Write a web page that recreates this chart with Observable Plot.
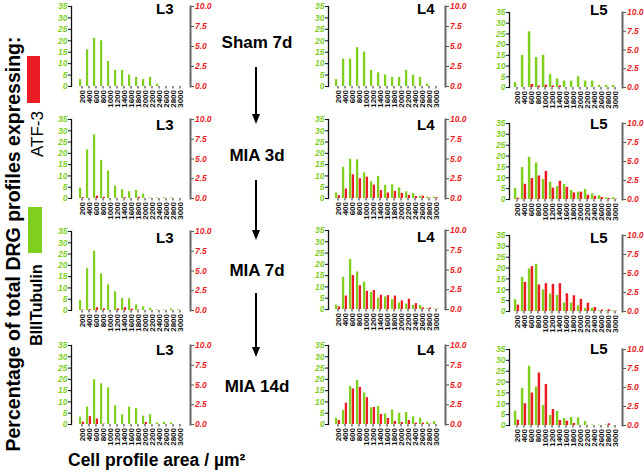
<!DOCTYPE html>
<html><head><meta charset="utf-8">
<script src="https://cdn.jsdelivr.net/npm/d3@7"></script>
<script src="https://cdn.jsdelivr.net/npm/@observablehq/plot@0.6"></script>
<style>
body{margin:0;background:#fff;font-family:"Liberation Sans",Arial,sans-serif;}
#chart{position:relative;width:644px;height:472px;overflow:hidden;background:#fff;}
#chart svg.p{position:absolute;}
#chart svg.ov{position:absolute;left:0;top:0;}
</style></head><body><div id="chart"></div>
<script>
// ---- data ----
const categories = [200,400,600,800,1000,1200,1400,1600,1800,2000,2200,2400,2600,2800,3000];
const rightTicks = [0,2.5,5,7.5,10];
const leftTicks = [0,5,10,15,20,25,30,35];
const groups = ["Sham 7d","MIA 3d","MIA 7d","MIA 14d"];
const levels = ["L3","L4","L5"];

const sham7d_L3_tub = [3,16,21,20,11,7,7,5,4,3,4,1,0,0,0];
const sham7d_L3_atf = [0,0,0,0,0,0,0,0,0,0,0,0,0,0,0];
const sham7d_L4_tub = [3,12,12,17,15,7,6,5,4,4,7,5,4,1,0];
const sham7d_L4_atf = [0,0,0,0,0,0,0,0,0,0,0,0,0,0,0];
const sham7d_L5_tub = [2.2,15,26,14,15,6,4,3,3,5,3,3,1,1,1];
const sham7d_L5_atf = [0,0,0.4,0.2,0.3,0.2,0.2,0,0,0,0,0,0,0,0];

const mia3d_L3_tub = [4.6,21.5,28.2,16.9,12.2,5.5,3.9,3,3.6,1.9,0.3,0.3,0.3,0.3,0];
const mia3d_L3_atf = [0.1,0,0.3,0.15,0,0,0.1,0,0.15,0,0,0,0,0,0];
const mia3d_L4_tub = [2.5,13.8,17.4,17.1,11.4,7.4,9.8,5.8,6.1,4.7,3,2.2,1,0.6,0.6];
const mia3d_L4_atf = [0.35,1.2,3.0,2.5,2.7,1.7,1.0,0.7,0.9,0.65,0.4,0.25,0.3,0.05,0.1];
const mia3d_L5_tub = [5,14.7,19.4,16.8,9.2,8,6,6.9,4.1,3.4,4.6,2.6,1.8,0.8,0.8];
const mia3d_L5_atf = [0.17,2.0,2.75,3.1,3.7,1.5,2.4,1.6,0.87,0.96,0.57,0.4,0.26,0.13,0.05];

const mia7d_L3_tub = [4.4,18.5,26.3,16.2,11.4,8.3,5.3,5.2,2.5,1.6,1,0.3,0.2,0.7,0.3];
const mia7d_L3_atf = [0.05,0.1,0.35,0.2,0,0.2,0.35,0.17,0.05,0,0,0,0,0,0];
const mia7d_L4_tub = [1.9,14.3,22.2,16.6,12.1,7.6,5,5.6,4.4,2.9,2.4,1.8,1.8,0.3,0.15];
const mia7d_L4_atf = [0.34,1.7,4.3,3.0,2.3,2.4,1.8,1.76,1.7,1.1,1.3,0.75,0.2,0.17,0.05];
const mia7d_L5_tub = [5.4,15.7,19.6,21.7,9.9,8,7.4,3.9,3.9,2.6,1.4,1.5,0.3,0.3,0.3];
const mia7d_L5_atf = [0.84,3.83,5.9,3.5,3.66,3.57,3.66,2.33,2.07,1.6,1.1,0.53,0.18,0.22,0.05];

const mia14d_L3_tub = [3.2,7.7,19.8,18,16.2,8.3,4.3,7.7,7.1,3.7,4.3,0.7,1,0.7,0];
const mia14d_L3_atf = [0.3,1.0,0.7,0.05,0,0,0,0,0,0.25,0,0,0,0,0];
const mia14d_L4_tub = [2.8,6.2,16.8,19.5,14,7.4,8,4.7,6.4,5,5.3,3.4,2.8,1,1.3];
const mia14d_L4_atf = [0.5,2.7,4.5,4.7,3.4,2.15,1.27,0.76,0.38,0.25,0.5,0.17,0.17,0.05,0];
const mia14d_L5_tub = [6.6,17.1,27.3,17.7,9.2,4.6,6.5,3.2,3.7,3.5,1.8,0.2,0.2,0.2,0];
const mia14d_L5_atf = [0.7,2.86,4.27,6.9,5.4,2.1,0.66,0.57,0.26,0,0,0,0,0.22,0];

const seriesTub = [
  [sham7d_L3_tub, sham7d_L4_tub, sham7d_L5_tub],
  [mia3d_L3_tub, mia3d_L4_tub, mia3d_L5_tub],
  [mia7d_L3_tub, mia7d_L4_tub, mia7d_L5_tub],
  [mia14d_L3_tub, mia14d_L4_tub, mia14d_L5_tub]
];
const seriesAtf = [
  [sham7d_L3_atf, sham7d_L4_atf, sham7d_L5_atf],
  [mia3d_L3_atf, mia3d_L4_atf, mia3d_L5_atf],
  [mia7d_L3_atf, mia7d_L4_atf, mia7d_L5_atf],
  [mia14d_L3_atf, mia14d_L4_atf, mia14d_L5_atf]
];

// ---- layout ----
const GREEN = "#7fcf1f", RED = "#ec1c24";
const K = 35 / 10; // right axis (0–10) mapped onto left axis (0–35)
const FONT = '"Liberation Sans", Arial, sans-serif';
const colX = [[71,190],[328,445],[509,622]];
const rowY = [
  [[6,86],[6,86],[12,87]],
  [[119,198],[119,198],[123,199]],
  [[231,310],[230,309],[235,311]],
  [[345,424],[345,424],[349,425]]
];

const chart = document.getElementById("chart");

function panel(tub, atf, xL, xR, top, zero) {
  const mL = 30, mR = 30, mT = 6, mB = 28;
  const w = xR - xL + mL + mR, h = zero - top + mT + mB;
  const pi = 0.3, po = 0.1;
  const step = (xR - xL) / (categories.length - pi + 2 * po);
  const bw = step * (1 - pi), bar = 2.8;
  const rows = categories.map((c, i) => ({c, t: tub[i], a: atf[i] * K}));
  const svg = Plot.plot({
    width: w, height: h, marginLeft: mL, marginRight: mR, marginTop: mT, marginBottom: mB,
    style: {background: "transparent", fontFamily: FONT, fontSize: "8px", fontWeight: "bold", overflow: "visible"},
    x: {type: "band", domain: categories, paddingInner: pi, paddingOuter: po},
    y: {domain: [0, 35]},
    marks: [
      Plot.barY(rows, {x: "c", y: "t", fill: GREEN, insetLeft: bw / 2 - bar, insetRight: bw / 2}),
      Plot.barY(rows, {x: "c", y: "a", fill: RED, insetLeft: bw / 2, insetRight: bw / 2 - bar}),
      Plot.axisX({ticks: categories, tickFormat: d => String(d), tickRotate: -90, tickSize: 2.5, tickPadding: 1, stroke: "#222", fill: "#111", fontSize: 8, label: null}),
      Plot.axisY({anchor: "left", ticks: leftTicks, tickFormat: d => String(d), tickSize: 3, tickPadding: 1, stroke: "#111", fill: GREEN, fontStyle: "italic", fontSize: 8.5, label: null}),
      Plot.axisY({anchor: "right", ticks: rightTicks.map(v => v * K), tickFormat: d => (d / K).toFixed(1), tickSize: 3, tickPadding: 1.5, stroke: "#555", fill: RED, fontStyle: "italic", fontSize: 8.5, label: null}),
      Plot.frame({anchor: "left", stroke: "#111", strokeWidth: 1.3}),
      Plot.frame({anchor: "right", stroke: "#666", strokeWidth: 2})
    ]
  });
  svg.classList.add("p");
  svg.style.left = (xL - mL) + "px";
  svg.style.top = (top - mT) + "px";
  return svg;
}

for (let r = 0; r < 4; r++) {
  for (let c = 0; c < 3; c++) {
    const [xL, xR] = colX[c];
    const [top, zero] = rowY[r][c];
    chart.appendChild(panel(seriesTub[r][c], seriesAtf[r][c], xL, xR, top, zero));
  }
}

// ---- annotations ----
const ns = "http://www.w3.org/2000/svg";
const ov = document.createElementNS(ns, "svg");
ov.setAttribute("class", "ov");
ov.setAttribute("width", 644); ov.setAttribute("height", 472);
ov.style.fontFamily = FONT;
function txt(s, x, y, opts = {}) {
  const t = document.createElementNS(ns, "text");
  t.textContent = s;
  t.setAttribute("x", x); t.setAttribute("y", y);
  for (const k in opts) t.setAttribute(k, opts[k]);
  ov.appendChild(t);
  return t;
}
function rect(x, y, w, h, fill) {
  const e = document.createElementNS(ns, "rect");
  e.setAttribute("x", x); e.setAttribute("y", y); e.setAttribute("width", w); e.setAttribute("height", h); e.setAttribute("fill", fill);
  ov.appendChild(e);
}
function arrow(x, y1, y2) {
  const l = document.createElementNS(ns, "line");
  l.setAttribute("x1", x); l.setAttribute("x2", x); l.setAttribute("y1", y1); l.setAttribute("y2", y2 - 8);
  l.setAttribute("stroke", "#000"); l.setAttribute("stroke-width", 2);
  ov.appendChild(l);
  const p = document.createElementNS(ns, "path");
  p.setAttribute("d", `M${x - 4},${y2 - 10}L${x + 4},${y2 - 10}L${x},${y2}Z`);
  p.setAttribute("fill", "#000");
  ov.appendChild(p);
}

// panel titles
const titleX = [156, 417, 590];
const titleBase = [[14,14,15],[130,130,129],[243,242,243],[355,355,354]];
for (let r = 0; r < 4; r++) for (let c = 0; c < 3; c++)
  txt(levels[c], titleX[c], titleBase[r][c], {"font-size": 15, "font-weight": "bold", fill: "#000"});

// group labels
const groupBase = [48, 161, 276, 392];
groups.forEach((g, i) => txt(g, 257, groupBase[i], {"font-size": 17, "font-weight": "bold", "text-anchor": "middle"}));
arrow(256, 67, 124);
arrow(256, 180, 240);
arrow(256, 293, 357);

// left title + legend
txt("Percentage of total DRG profiles expressing:", 0, 0, {"font-size": 19.5, "font-weight": "bold", "text-anchor": "middle", transform: "translate(20,244) rotate(-90)"});
rect(27, 56, 13, 47, RED);
rect(28, 207, 14, 46, GREEN);
txt("ATF-3", 0, 0, {"font-size": 17, "text-anchor": "middle", transform: "translate(43,134) rotate(-90)"});
txt("BIIITubulin", 0, 0, {"font-size": 16, "font-weight": "bold", "text-anchor": "middle", transform: "translate(42,305) rotate(-90)"});

// bottom label
txt("Cell profile area / µm²", 68, 466, {"font-size": 17.5, "font-weight": "bold"});

chart.appendChild(ov);
</script></body></html>
